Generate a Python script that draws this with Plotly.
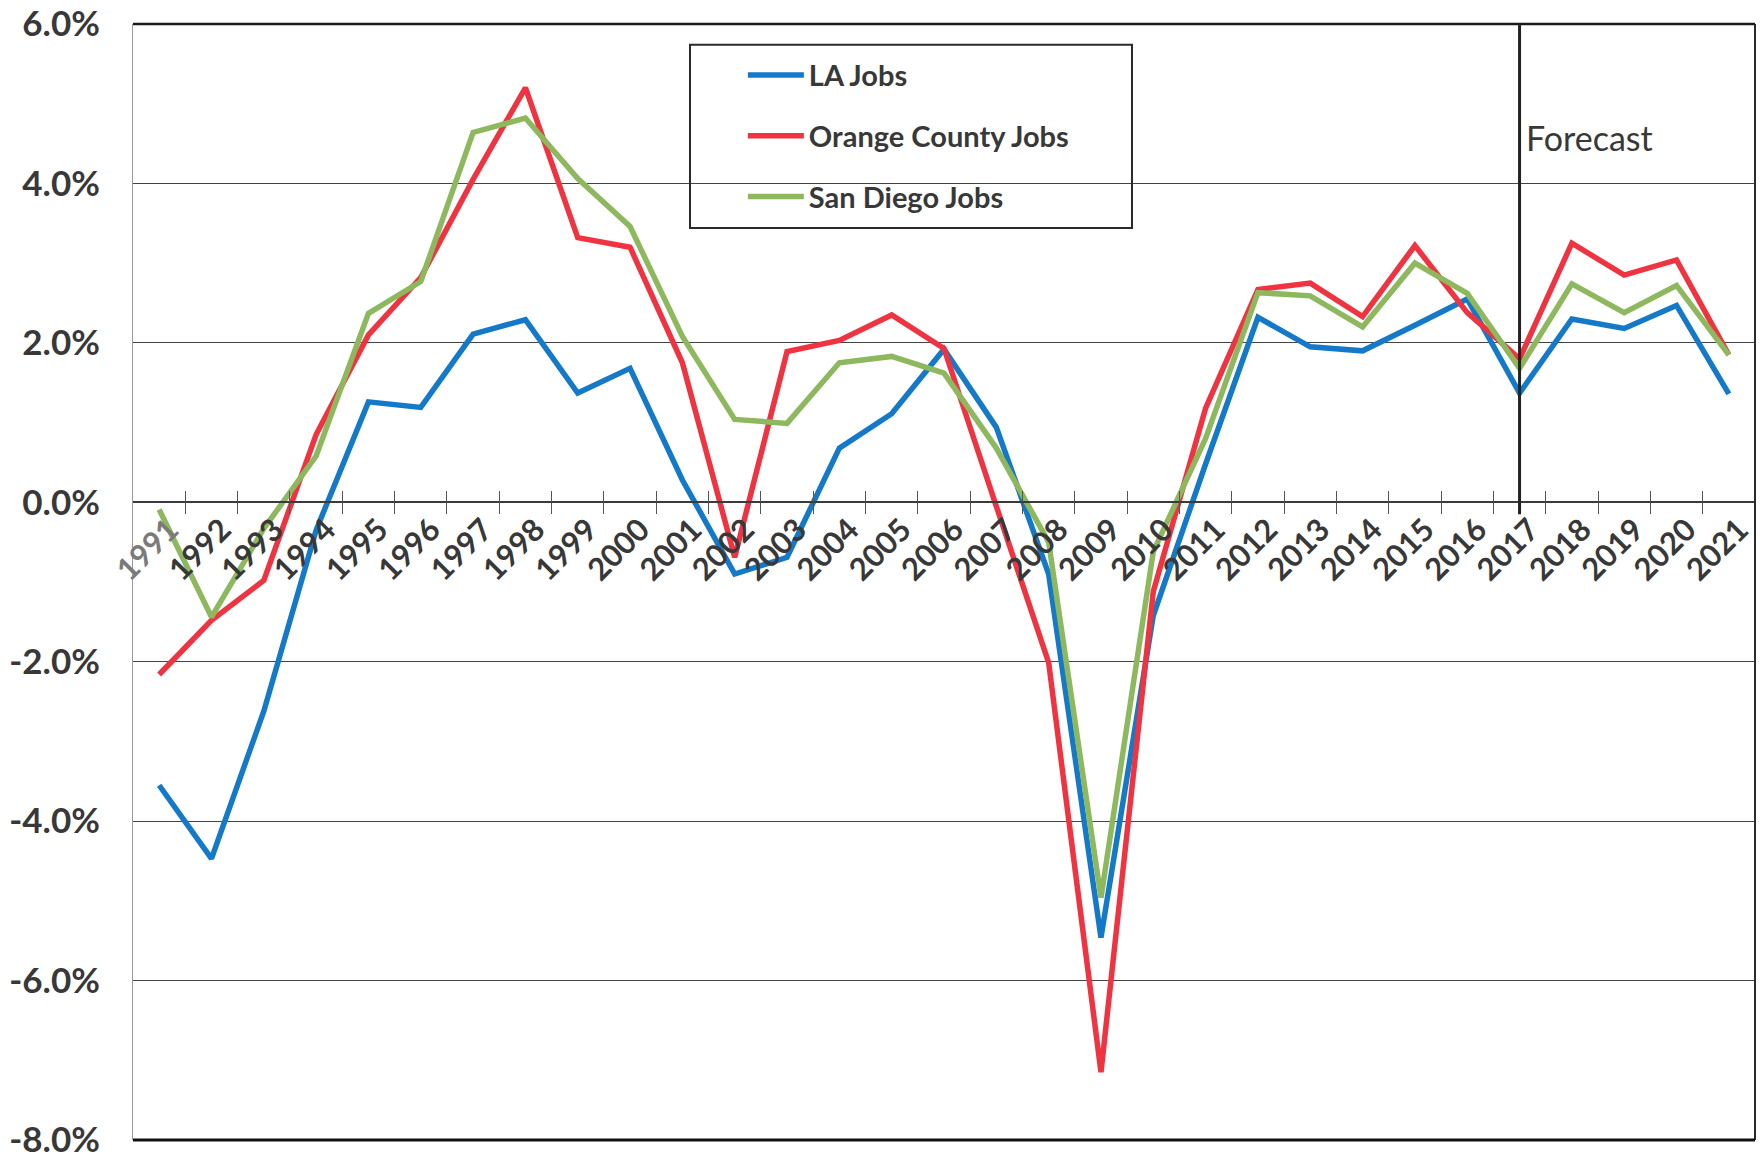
import plotly.graph_objects as go

# Annual job growth (%), 1991-2021; 2018 onward are forecast values
years = list(range(1991, 2022))
la_jobs = [-3.55, -4.47, -2.62, -0.35, 1.26, 1.19, 2.11, 2.29, 1.37, 1.68,
           0.28, -0.90, -0.69, 0.68, 1.11, 1.92, 0.94, -0.90, -5.46, -1.42,
           0.48, 2.32, 1.95, 1.90, 2.22, 2.55, 1.37, 2.30, 2.18, 2.47, 1.36]
oc_jobs = [-2.16, -1.48, -0.98, 0.85, 2.10, 2.82, 4.05, 5.20, 3.32, 3.20,
           1.75, -0.69, 1.89, 2.03, 2.35, 1.93, -0.05, -2.01, -7.15, -1.12,
           1.18, 2.67, 2.75, 2.33, 3.22, 2.38, 1.80, 3.25, 2.85, 3.04, 1.85]
sd_jobs = [-0.09, -1.44, -0.33, 0.58, 2.37, 2.77, 4.64, 4.82, 4.06, 3.46,
           2.08, 1.04, 0.99, 1.75, 1.83, 1.62, 0.68, -0.50, -4.96, -0.62,
           0.80, 2.63, 2.59, 2.20, 3.00, 2.62, 1.68, 2.74, 2.38, 2.72, 1.85]
series_names = ["LA Jobs", "Orange County Jobs", "San Diego Jobs"]
series_colors = ["#1479C9", "#EF3340", "#8DB85E"]
year_labels = [str(y) for y in years]
y_ticks = [-8, -6, -4, -2, 0, 2, 4, 6]
forecast_from = 2017

FONT = "Lato"
TEXT = "#383838"

# each series sits on its own overlaid x axis (all sharing one range):
# x carries the year labels, x2 the downward ticks, x3 the upward ticks
axis_ids = ["x", "x2", "x3"]

fig = go.Figure()
for i, (name, vals, col) in enumerate(zip(series_names, [la_jobs, oc_jobs, sd_jobs], series_colors)):
    fig.add_trace(go.Scatter(
        x=years, y=vals, name=name, mode="lines", xaxis=axis_ids[i], yaxis="y",
        line=dict(color=col, width=5.5), legendgroup=f"g{i}",
    ))

x_range = [years[0] - 0.5, years[-1] + 0.5]
bounds = [y + 0.5 for y in years[:-1]]
label_pos = [y + 0.2 for y in years]
tick_text = [f"<span style='color:#7a7a7a'>{t}</span>" if t == year_labels[0] else t
             for t in year_labels]
zero_pos = (0 - y_ticks[0]) / (y_ticks[-1] - y_ticks[0])

tick_axis = dict(
    range=x_range, anchor="free", position=zero_pos, automargin=False,
    tickmode="array", tickvals=bounds, ticklen=11,
    tickcolor="#555", tickwidth=1.3,
    showticklabels=False, showgrid=False, zeroline=False, showline=False,
)

fig.update_layout(
    width=1760, height=1161,
    margin=dict(l=133, r=5, t=24, b=21, autoexpand=False),
    paper_bgcolor="white", plot_bgcolor="white",
    font=dict(family=FONT, color=TEXT),
    showlegend=True,
    legend=dict(
        x=0.376, y=0.977, xanchor="left", yanchor="top",
        bgcolor="rgba(0,0,0,0)", borderwidth=0,
        font=dict(family=FONT, size=29, color=TEXT, weight="bold"),
        tracegroupgap=20, traceorder="grouped", itemwidth=56,
    ),
    xaxis=dict(
        range=x_range, anchor="free", position=zero_pos, automargin=False,
        tickmode="array", tickvals=label_pos, ticktext=tick_text,
        tickangle=-45, ticks="", ticklabelstandoff=-4,
        ticklabeloverflow="allow",
        tickfont=dict(family=FONT, size=31, color=TEXT, weight="bold"),
        showgrid=False, zeroline=False,
        showline=True, linecolor="#3a3a3a", linewidth=1.5,
    ),
    xaxis2=dict(overlaying="x", matches="x", ticks="outside", **tick_axis),
    xaxis3=dict(overlaying="x", matches="x", ticks="inside", **tick_axis),
    yaxis=dict(
        range=[y_ticks[0], y_ticks[-1]], automargin=False,
        tickmode="array", tickvals=y_ticks,
        ticktext=[f"{v:.1f}%" for v in y_ticks],
        tickfont=dict(family=FONT, size=35, color=TEXT, weight="bold"),
        ticks="", ticklabelstandoff=25, ticklabeloverflow="allow",
        showgrid=True, gridcolor="#444", gridwidth=1.4,
        zeroline=False,
        showline=True, linecolor="#9a9a9a", linewidth=1.2,
    ),
)

# plot frame: top, right and bottom edges
fig.add_shape(type="line", xref="paper", yref="paper", x0=0, x1=1, y0=1, y1=1,
              line=dict(color="#1a1a1a", width=2.5))
fig.add_shape(type="line", xref="paper", yref="paper", x0=1, x1=1, y0=0, y1=1,
              line=dict(color="#2a2a2a", width=2))
fig.add_shape(type="line", xref="paper", yref="paper", x0=0, x1=1, y0=0, y1=0,
              line=dict(color="#111", width=3))

# forecast divider and its label
fig.add_shape(type="line", xref="x", yref="y", x0=forecast_from, x1=forecast_from,
              y0=-0.15, y1=y_ticks[-1], line=dict(color="#222", width=3))
fig.add_annotation(x=forecast_from, y=4.57, xref="x", yref="y", text="Forecast",
                   showarrow=False, xanchor="left", yanchor="middle", xshift=4,
                   font=dict(family=FONT, size=34, color=TEXT))

# legend frame
fig.add_shape(type="rect", xref="paper", yref="paper",
              x0=0.3434, x1=0.6159, y0=0.8171, y1=0.9813,
              line=dict(color="#2a2a2a", width=2), fillcolor="rgba(255,255,255,0)")

fig.write_html("out.html")
